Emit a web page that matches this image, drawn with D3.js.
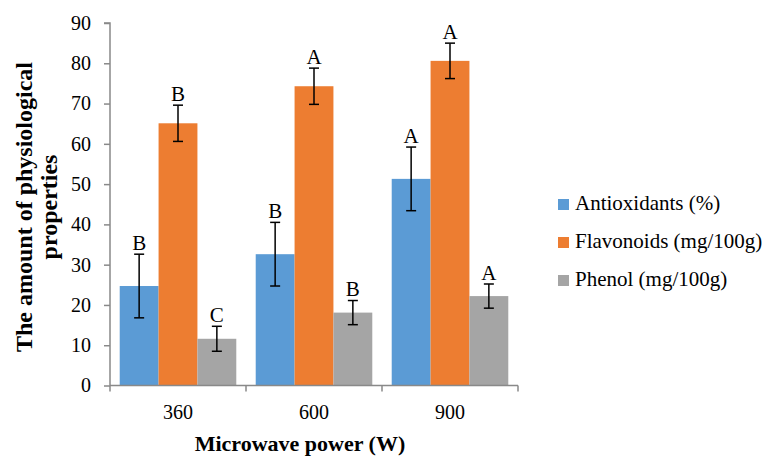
<!DOCTYPE html>
<html><head><meta charset="utf-8">
<script src="https://cdn.jsdelivr.net/npm/d3@7"></script>
<style>body{margin:0;background:#fff}svg{display:block}</style>
</head><body><svg id="c" width="765" height="456" font-family="Liberation Serif, Times New Roman, serif"></svg>
<script>
const categories = ["360", "600", "900"];
const seriesNames = ["Antioxidants (%)", "Flavonoids (mg/100g)", "Phenol (mg/100g)"];
const antioxidants = [24.7, 32.6, 51.3];
const flavonoids = [65.1, 74.3, 80.6];
const phenol = [11.6, 18.1, 22.2];
const antioxidantsErr = [7.9, 7.9, 7.9];
const flavonoidsErr = [4.5, 4.5, 4.4];
const phenolErr = [3.1, 3.0, 3.0];
const antioxidantsLetters = ["B", "B", "A"];
const flavonoidsLetters = ["B", "A", "A"];
const phenolLetters = ["C", "B", "A"];
const yTicks = [0, 10, 20, 30, 40, 50, 60, 70, 80, 90];
const colors = ["#5B9BD5", "#ED7D31", "#A5A5A5"];

const values = [antioxidants, flavonoids, phenol];
const errs = [antioxidantsErr, flavonoidsErr, phenolErr];
const letters = [antioxidantsLetters, flavonoidsLetters, phenolLetters];

const FONT = "Liberation Serif, Times New Roman, serif";
const svg = d3.select("#c");
const pL = 110, pR = 518, pT = 23, pB = 385.5;
const x = d3.scaleBand().domain(categories).range([pL, pR]).paddingInner(0).paddingOuter(0);
const xs = d3.scaleBand().domain(d3.range(3)).range([0, x.bandwidth()]).paddingOuter(0.25).paddingInner(0);
const y = d3.scaleLinear().domain([0, 90]).range([pB, pT]);
const axisColor = "#898989";

// bars
categories.forEach((c, i) => {
  values.forEach((arr, s) => {
    const bx = x(c) + xs(s);
    svg.append("rect").attr("x", bx).attr("y", y(arr[i])).attr("width", xs.bandwidth())
      .attr("height", y(0) - y(arr[i])).attr("fill", colors[s]);
  });
});

// y axis
const yAxis = d3.axisLeft(y).tickValues(yTicks).tickSize(6).tickPadding(13);
const gy = svg.append("g").attr("transform", `translate(${pL},0)`).call(yAxis)
  .attr("font-family", FONT).attr("font-size", 20);
gy.select(".domain").attr("stroke", axisColor).attr("stroke-width", 1.5).attr("d", `M-6,${pT}H0V${pB}`);
gy.selectAll(".tick line").attr("stroke", axisColor).attr("stroke-width", 1.5);
gy.selectAll(".tick text").attr("fill", "#000").attr("font-family", FONT);

// x axis
const gx = svg.append("g").attr("transform", `translate(0,${pB})`).attr("font-family", FONT);
gx.append("line").attr("x1", pL).attr("x2", pR).attr("y1", 0).attr("y2", 0).attr("stroke", axisColor).attr("stroke-width", 1.5);
const bounds = categories.map(c => x(c)).concat([x(categories[categories.length - 1]) + x.bandwidth()]);
gx.selectAll(".bt").data(bounds).enter().append("line").attr("x1", d => d).attr("x2", d => d)
  .attr("y1", 0).attr("y2", 6).attr("stroke", axisColor).attr("stroke-width", 1.5);
gx.selectAll(".xl").data(categories).enter().append("text").attr("x", d => x(d) + x.bandwidth() / 2)
  .attr("y", 33.5).attr("text-anchor", "middle").attr("font-size", 20).text(d => d);

// error bars and letters
categories.forEach((c, i) => {
  values.forEach((arr, s) => {
    const cx = x(c) + xs(s) + xs.bandwidth() / 2;
    const hi = arr[i] + errs[s][i], lo = arr[i] - errs[s][i];
    const g = svg.append("g").attr("stroke", "#000").attr("stroke-width", 1.5);
    g.append("line").attr("x1", cx).attr("x2", cx).attr("y1", y(hi)).attr("y2", y(lo));
    g.append("line").attr("x1", cx - 5).attr("x2", cx + 5).attr("y1", y(hi)).attr("y2", y(hi));
    g.append("line").attr("x1", cx - 5).attr("x2", cx + 5).attr("y1", y(lo)).attr("y2", y(lo));
    svg.append("text").attr("x", cx).attr("y", y(hi) - 4.5).attr("text-anchor", "middle")
      .attr("font-size", 21).text(letters[s][i]);
  });
});

// axis titles
svg.append("text").attr("x", 300).attr("y", 451).attr("text-anchor", "middle")
  .attr("font-size", 22).attr("font-weight", "bold").text("Microwave power (W)");
const yt = svg.append("text").attr("transform", "translate(0,207) rotate(-90)").attr("text-anchor", "middle")
  .attr("font-size", 24).attr("font-weight", "bold");
yt.append("tspan").attr("x", 0).attr("y", 32).text("The amount of physiological");
yt.append("tspan").attr("x", 0).attr("y", 57).text("properties");

// legend
const lg = svg.append("g").attr("font-family", FONT);
seriesNames.forEach((n, s) => {
  const by = 210 + s * 38;
  lg.append("rect").attr("x", 558).attr("y", by - 11).attr("width", 11).attr("height", 11).attr("fill", colors[s]);
  lg.append("text").attr("x", 575).attr("y", by).attr("font-size", 21).text(n);
});
</script></body></html>
